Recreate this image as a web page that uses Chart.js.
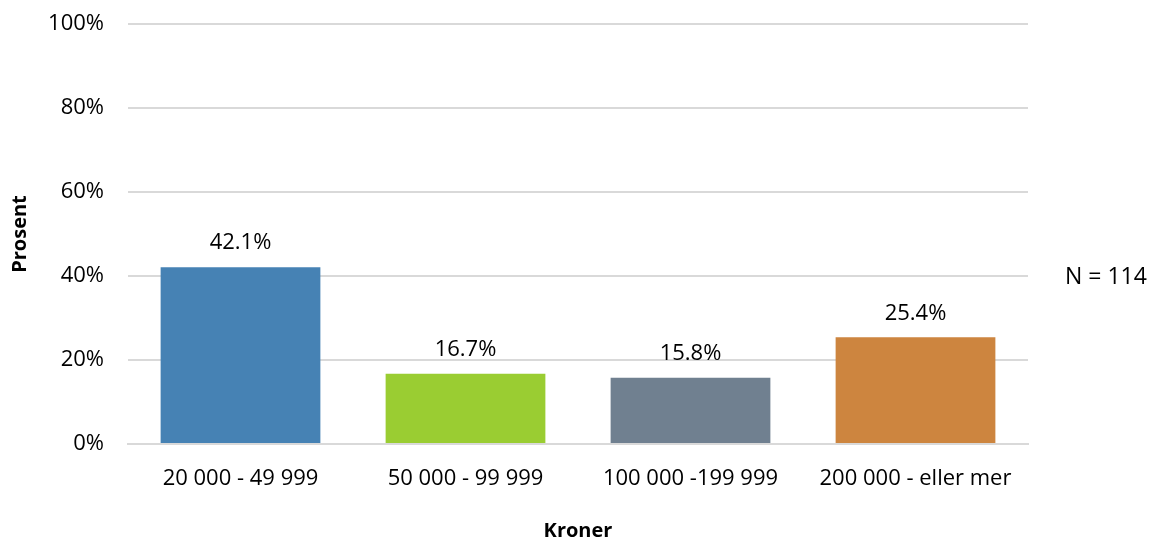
<!DOCTYPE html>
<html>
<head>
<meta charset="utf-8">
<script src="https://cdn.jsdelivr.net/npm/chart.js@4"></script>
<style>
  html, body { margin: 0; padding: 0; background: #fff; }
  #wrap { width: 1169px; height: 539px; }
</style>
</head>
<body>
<div id="wrap"><canvas id="kronerChart"></canvas></div>
<script>
const categories = ["20 000 - 49 999", "50 000 - 99 999", "100 000 -199 999", "200 000 - eller mer"];
const values = [42.1, 16.7, 15.8, 25.4];
const barColors = ["#4682B4", "#9ACD32", "#708090", "#CD853F"];
const yTicks = [0, 20, 40, 60, 80, 100];
const noteText = "N = 114";

const FONT = "'Open Sans', Lato, sans-serif";
const FS = 22;

// labels over the bars + the N note at the right
const labelPlugin = {
  id: "barLabels",
  afterDatasetsDraw(chart) {
    const ctx = chart.ctx;
    const meta = chart.getDatasetMeta(0);
    ctx.save();
    ctx.font = FS + "px " + FONT;
    ctx.fillStyle = "#000";
    ctx.textAlign = "center";
    ctx.textBaseline = "middle";
    meta.data.forEach((bar, i) => {
      ctx.fillText(values[i].toFixed(1) + "%", bar.x, bar.y - 24);
    });
    const y = chart.scales.y.getPixelForValue(40);
    ctx.textAlign = "left";
    ctx.font = "23px " + FONT;
    ctx.fillText(noteText, chart.chartArea.right + 37, y + 1);
    ctx.restore();
  }
};

const ctx = document.getElementById("kronerChart").getContext("2d");
new Chart(ctx, {
  type: "bar",
  data: {
    labels: categories,
    datasets: [{
      data: values,
      backgroundColor: barColors,
      borderWidth: 0,
      barPercentage: 0.71,
      categoryPercentage: 1.0
    }]
  },
  options: {
    responsive: true,
    maintainAspectRatio: false,
    animation: false,
    layout: { padding: { top: 24, right: 141, bottom: 0, left: 8 } },
    plugins: {
      legend: { display: false },
      tooltip: { enabled: false }
    },
    scales: {
      x: {
        afterFit(scale) { scale.height = 95; },
        grid: { display: false, drawTicks: false },
        border: { color: "#d9d9d9", width: 2 },
        ticks: { color: "#000", font: { family: FONT, size: FS }, padding: 22 },
        title: { display: true, text: "Kroner", color: "#000", font: { family: FONT, size: 20, weight: "bold" }, padding: { top: 30, bottom: -4 } }
      },
      y: {
        min: 0,
        max: 100,
        afterBuildTicks(scale) { scale.ticks = yTicks.map(v => ({ value: v })); },
        afterFit(scale) {
          scale.width = 120;
          scale.paddingTop = 0;
          scale.paddingBottom = 0;
        },
        grid: { color: "#d9d9d9", lineWidth: 2, drawTicks: false },
        border: { display: false },
        ticks: { color: "#000", font: { family: FONT, size: FS }, padding: 24, callback: v => v + "%" },
        title: { display: true, text: "Prosent", color: "#000", font: { family: FONT, size: 20, weight: "bold" }, padding: { top: 0, bottom: 0 } }
      }
    }
  },
  plugins: [labelPlugin]
});
</script>
</body>
</html>
